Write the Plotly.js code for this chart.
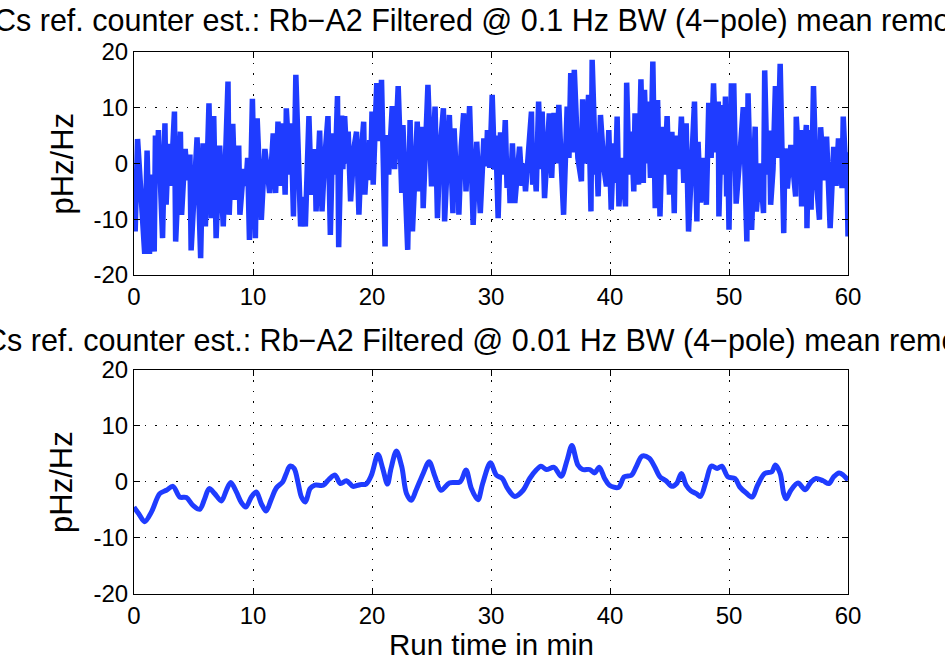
<!DOCTYPE html>
<html>
<head>
<meta charset="utf-8">
<script src="https://cdn.plot.ly/plotly-3.0.1.min.js"></script>
<style>html,body{margin:0;padding:0;background:#fff;}#chart{width:945px;height:662px;}</style>
</head>
<body>
<div id="chart"></div>
<script>
// Top panel: 0.1 Hz BW filtered (minutes, pHz/Hz)
const tTop = [0.0,0.1,0.3,0.6,0.9,1.1,1.3,1.5,1.7,1.8,1.95,2.05,2.4,2.6,2.7,2.9,3.1,3.4,3.5,3.9,4.0,4.3,4.5,4.7,4.8,5.3,5.6,5.8,6.0,6.3,6.5,6.7,6.9,7.2,7.5,7.9,8.0,8.3,8.5,8.8,8.9,9.2,9.4,9.55,9.7,9.95,
10.2,10.35,10.7,11.0,11.4,11.7,11.9,12.1,12.3,12.5,12.7,12.8,13.1,13.2,13.4,13.6,13.8,14.0,14.2,14.4,14.7,14.9,15.2,15.3,15.6,15.8,16.0,16.3,16.5,16.7,16.9,17.1,17.2,17.45,17.55,17.7,17.9,18.0,18.2,18.5,18.7,18.9,19.1,19.3,19.4,19.6,19.7,19.8,19.9,
20.0,20.1,20.4,20.6,20.8,21.1,21.2,21.4,21.7,21.9,22.2,22.5,22.6,23.0,23.2,23.4,23.6,23.8,24.0,24.2,24.3,24.7,25.0,25.3,25.5,25.7,26.0,26.1,26.5,26.8,26.9,27.1,27.2,27.3,27.5,27.7,27.9,28.2,28.5,28.8,29.1,29.4,29.6,29.7,29.9,
30.1,30.3,30.4,30.6,30.8,31.0,31.2,31.35,31.5,31.6,31.8,32.0,32.2,32.4,32.6,32.75,32.9,33.1,33.4,33.5,33.65,33.8,34.0,34.2,34.3,34.5,34.9,35.1,35.3,35.5,35.7,35.9,36.1,36.4,36.55,36.7,36.85,37.0,37.3,37.6,37.7,37.9,38.2,38.4,38.5,38.8,38.9,39.0,39.2,39.5,39.7,39.9,
40.1,40.3,40.45,40.6,40.75,41.0,41.3,41.4,41.6,41.8,42.0,42.1,42.4,42.6,42.8,42.9,43.1,43.2,43.4,43.6,43.8,44.0,44.2,44.4,44.6,44.8,45.0,45.2,45.4,45.5,45.8,46.0,46.2,46.4,46.6,47.1,47.3,47.4,47.6,47.8,48.1,48.3,48.5,48.7,48.9,49.1,49.15,49.4,49.6,49.7,49.8,49.9,
50.0,50.2,50.3,50.4,50.6,50.9,51.2,51.5,51.6,51.9,52.2,52.3,52.6,52.9,53.0,53.2,53.4,53.5,53.7,53.9,54.1,54.3,54.6,54.7,54.9,55.2,55.6,55.65,55.9,56.0,56.1,56.3,56.5,56.55,56.7,56.9,57.1,57.3,57.6,57.7,58.0,58.2,58.5,58.8,59.0,59.2,59.5,59.6,59.8,59.9,60.0];
const vTop = [-4.5,-12.2,4.4,-6.0,-16.2,2.3,-16.2,-2.0,-15.8,5.0,-3.0,6.0,-13.4,7.2,-7.4,3.5,-4.0,9.3,-14.0,5.7,-9.2,2.6,-3.0,1.6,-15.6,4.7,-17.0,3.6,-11.3,10.8,-9.8,8.5,-13.4,3.2,-11.3,14.7,-9.2,7.1,-6.5,3.2,-9.2,-1.0,-4.0,1.0,-13.7,11.6,
-13.4,8.1,-10.1,2.6,-5.3,5.4,-5.3,7.5,-4.0,7.2,-5.6,9.9,-2.0,7.2,-9.5,15.9,-1.0,-11.3,-6.0,-11.3,8.5,-5.6,2.6,-8.6,5.9,-8.6,0.0,8.5,-12.8,5.4,-2.0,12.1,-15.0,8.6,-1.0,8.5,0.0,5.7,-6.8,3.0,5.7,-9.2,2.0,7.5,-5.6,2.0,-3.0,4.2,-1.0,
9.3,-3.8,14.4,4.0,15.0,-14.9,5.1,-2.0,10.3,-1.0,13.9,-5.3,6.9,-15.5,7.8,-12.2,-2.0,7.5,-5.0,6.6,-8.0,14.1,-4.1,10.2,-9.8,2.0,9.9,-10.4,8.7,-8.9,6.3,-3.0,1.0,-9.2,3.0,9.0,-5.0,10.3,-11.0,3.9,-8.9,4.5,-0.5,6.0,-0.8,
12.3,-1.1,5.0,-9.8,5.6,-2.0,7.8,-4.4,0.0,-7.1,3.6,-7.1,-1.0,3.0,-4.0,0.0,-5.0,2.0,9.3,-3.8,0.0,-5.0,11.1,-1.0,9.3,-6.2,9.0,-2.6,9.1,0.0,10.5,0.0,-9.2,10.2,1.0,16.2,2.0,16.8,1.0,-3.2,11.5,0.0,12.3,-8.6,18.6,-2.0,1.0,-5.9,8.7,-1.0,-4.1,6.0,
-8.3,3.6,-3.5,8.4,-7.7,1.0,-7.7,14.5,-2.0,5.7,-5.0,9.0,-3.8,15.1,-3.5,13.2,0.0,11.1,-2.6,18.3,-8.0,11.4,-9.5,6.6,-2.0,8.5,-5.6,5.7,-8.9,5.0,-1.0,8.4,-3.5,7.2,-12.2,11.1,-10.4,3.9,-7.0,1.0,-7.4,10.9,1.0,14.4,2.0,11.1,-9.5,10.5,-2.0,12.0,-5.9,2.0,
-11.9,14.4,3.0,14.4,-7.2,1.0,10.1,-14.0,12.6,-11.9,6.6,-8.6,0.0,-8.9,16.7,-2.0,5.9,-7.4,-1.0,13.9,1.0,17.9,-12.5,2.7,-4.5,3.3,-5.9,8.4,-1.0,6.0,-7.7,1.0,6.9,-11.6,6.0,-8.3,13.9,-2.0,-10.1,6.5,-3.0,4.8,-11.6,3.0,-4.0,4.5,-4.4,8.4,-1.0,2.0,-13.1];

// Bottom panel: 0.01 Hz BW filtered
const tBot = [0.0,0.4,0.9,1.46,2.16,2.72,3.28,3.84,4.4,4.96,5.52,5.94,6.31,6.78,7.34,7.76,8.13,8.6,9.0,9.4,9.86,10.28,10.7,11.1,11.5,11.96,12.5,12.8,13.1,13.45,13.8,14.07,14.4,14.8,15.2,15.9,16.4,16.9,17.34,17.85,18.4,19.0,19.5,19.95,20.5,20.9,21.3,21.6,22.05,22.5,22.9,23.3,23.7,24.3,24.8,25.3,25.8,26.5,27.4,27.9,28.35,28.9,29.3,29.95,30.45,30.95,31.4,32.0,32.7,33.25,33.8,34.2,34.65,35.3,35.9,36.4,36.8,37.3,37.7,38.3,38.7,39.1,39.55,39.95,40.7,41.2,41.8,42.2,42.7,43.3,43.75,44.2,44.7,45.2,45.6,46.0,46.4,46.8,47.25,47.6,48.1,48.5,49.0,49.4,49.9,50.5,50.9,51.45,51.95,52.4,53.0,53.6,53.9,54.3,54.6,54.8,55.2,55.8,56.4,56.9,57.3,57.9,58.4,58.8,59.25,59.6,60.0];
const vBot = [-4.5,-5.7,-7.1,-5.4,-2.1,-1.5,-0.8,-2.7,-2.8,-4.2,-4.9,-3.0,-1.2,-2.1,-3.4,-1.5,-0.1,-1.8,-3.6,-4.5,-2.7,-1.8,-3.9,-5.2,-3.3,-1.1,0.0,1.5,2.8,2.4,-0.3,-2.7,-3.6,-1.2,-0.6,-0.6,0.5,1.2,-0.3,0.2,-0.8,-0.5,-0.4,1.2,4.9,2.4,-0.4,2.4,5.5,2.7,-2.1,-3.3,-1.5,1.5,3.6,0.9,-1.5,-0.2,0.0,2.1,-1.2,-3.2,-0.3,3.4,1.2,0.6,-1.2,-2.6,-1.5,0.6,2.1,2.8,2.2,2.6,1.0,3.9,6.5,3.0,2.2,2.2,1.6,2.6,0.6,-0.6,-1.0,0.9,1.2,2.7,4.6,4.2,2.7,0.9,0.2,-0.8,-0.3,1.5,-0.6,-1.6,-2.1,-2.6,0.3,2.8,2.4,2.8,0.9,0.6,-0.9,-2.0,-2.7,-0.6,1.5,1.8,3.0,1.5,-2.1,-3.0,-1.5,-0.2,-1.4,0.0,0.6,0.2,-0.3,0.9,1.6,1.2,0.3];

const xTicks = [0,10,20,30,40,50,60];
const yTicks = [-20,-10,0,10,20];
const titleTop = "Cs ref. counter est.: Rb\u2212A2 Filtered @ 0.1 Hz BW (4\u2212pole) mean removed";
const titleBot = "Cs ref. counter est.: Rb\u2212A2 Filtered @ 0.01 Hz BW (4\u2212pole) mean removed";
const xLabel = "Run time in min";
const yLabel = "pHz/Hz";

const FONT = "Liberation Sans, Arial, Helvetica, sans-serif";
const BLUE = "#1f3cff";

function xa(anchor){
  return {anchor:anchor, range:[0,60], tickvals:xTicks, ticktext:xTicks.map(String),
    showgrid:true, gridcolor:"#000", gridwidth:1, griddash:"1.5px,9px",
    zeroline:false, showline:true, linecolor:"#000", linewidth:1, mirror:"ticks",
    ticks:"inside", ticklen:6, tickcolor:"#000",
    tickfont:{family:FONT, size:24, color:"#000"}};
}
function ya(anchor, domain){
  return {anchor:anchor, domain:domain, range:[-20,20], tickvals:yTicks,
    ticktext:yTicks.map(String),
    showgrid:true, gridcolor:"#000", gridwidth:1, griddash:"1.5px,9px",
    zeroline:false, showline:true, linecolor:"#000", linewidth:1, mirror:"ticks",
    ticks:"inside", ticklen:6, tickcolor:"#000",
    tickfont:{family:FONT, size:24, color:"#000"}};
}

const data = [
  {x:tTop, y:vTop, type:"scatter", mode:"lines", xaxis:"x", yaxis:"y",
   line:{color:BLUE, width:5.5}, hoverinfo:"skip"},
  {x:tBot, y:vBot, type:"scatter", mode:"lines", xaxis:"x2", yaxis:"y2",
   line:{color:BLUE, width:5, shape:"spline", smoothing:0.9}, hoverinfo:"skip"}
];

const TF = {family:FONT, size:30.5, color:"#000"};
const layout = {
  width:945, height:662,
  margin:{l:134, r:97, t:52, b:68},
  paper_bgcolor:"#fff", plot_bgcolor:"#fff",
  showlegend:false,
  font:{family:FONT, color:"#000"},
  xaxis: xa("y"),
  yaxis: ya("x", [0.5886, 1.0]),
  xaxis2: xa("y2"),
  yaxis2: ya("x2", [0.0, 0.4138]),
  annotations:[
    {text:titleTop, xref:"paper", yref:"paper", x:0.5084, y:1.059, xanchor:"center", yanchor:"middle", showarrow:false, font:TF},
    {text:titleBot, xref:"paper", yref:"paper", x:0.5084, y:0.4686, xanchor:"center", yanchor:"middle", showarrow:false, font:TF},
    {text:xLabel, xref:"paper", yref:"paper", x:0.5, y:-0.094, xanchor:"center", yanchor:"middle", showarrow:false, font:{family:FONT, size:29.5, color:"#000"}},
    {text:yLabel, xref:"paper", yref:"paper", x:-0.1008, y:0.7943, xanchor:"center", yanchor:"middle", textangle:-90, showarrow:false, font:{family:FONT, size:31, color:"#000"}},
    {text:yLabel, xref:"paper", yref:"paper", x:-0.1008, y:0.2069, xanchor:"center", yanchor:"middle", textangle:-90, showarrow:false, font:{family:FONT, size:31, color:"#000"}}
  ]
};

Plotly.newPlot("chart", data, layout, {staticPlot:true, displayModeBar:false});
</script>
</body>
</html>
